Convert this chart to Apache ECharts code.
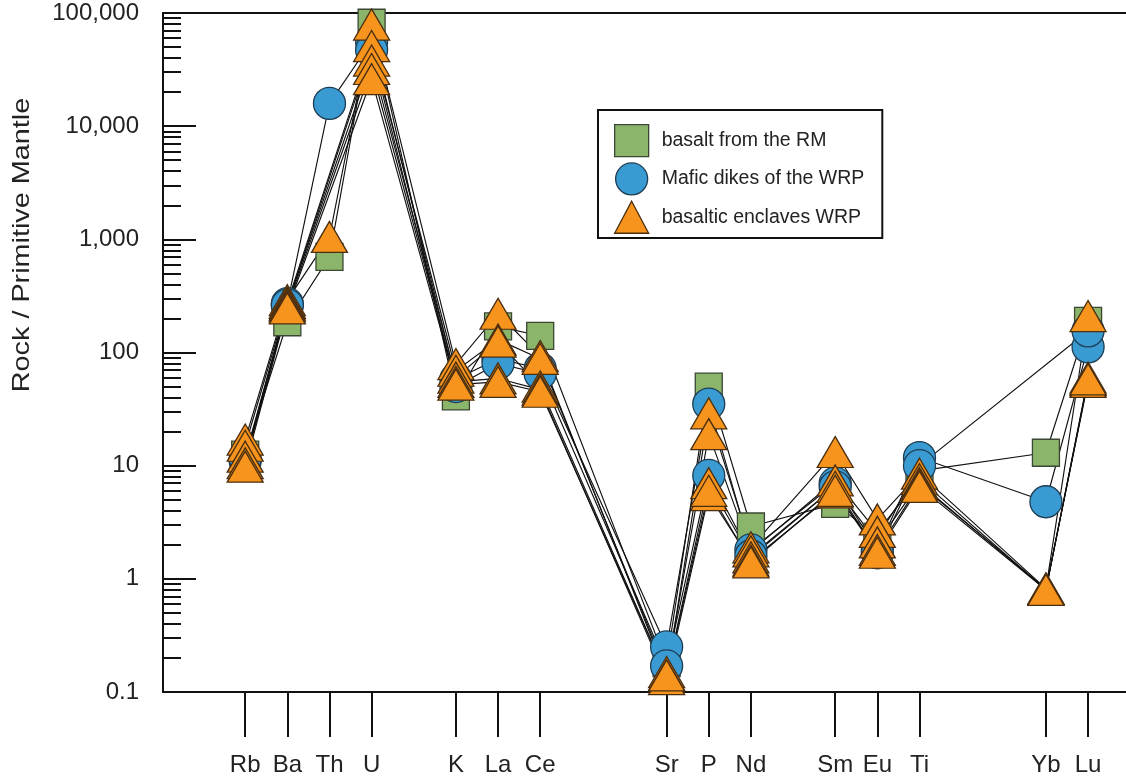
<!DOCTYPE html>
<html>
<head>
<meta charset="utf-8">
<title>Primitive-mantle normalised trace elements</title>
<script src="https://cdn.jsdelivr.net/npm/echarts@6/dist/echarts.min.js"></script>
<style>
  html, body { margin: 0; padding: 0; background: #ffffff; }
  #chart { width: 1126px; height: 778px; }
</style>
</head>
<body>
<div id="chart"></div>
<script>
// Element sequence along the x axis; blank entries are the gaps between element groups
const axisElements = ['Rb', 'Ba', 'Th', 'U', '', 'K', 'La', 'Ce', '', '', 'Sr', 'P', 'Nd', '', 'Sm', 'Eu', 'Ti', '', '', 'Yb', 'Lu'];

// Elements in the order each sample lists its values
const elements = ['Rb', 'Ba', 'Th', 'U', 'K', 'La', 'Ce', 'Sr', 'P', 'Nd', 'Sm', 'Eu', 'Ti', 'Yb', 'Lu'];

// Y-axis decade labels
const yTickValues = [0.1, 1, 10, 100, 1000, 10000, 100000];

// Rock / primitive mantle ratios (null = not analysed)
// basalt from the RM
const rm1 = [12.5, 185, 700, 82000, 41, 170, 140, 0.18, 50, 2.9, 4.6, 2.35, 9, 13, 190];

// Mafic dikes of the WRP
const dike1 = [11, 270, 15900, 56000, 58, 88, 72, 0.25, 35, 1.8, 7, 1.8, 11.8, 4.8, 112];
const dike2 = [11.5, 262, null, 47000, 50, 80, 65, 0.17, 8.2, 1.6, 6.5, 1.7, 10, null, 155];

// basaltic enclaves WRP
const encl1 = [17, 290, 1050, 79000, 79, 220, 93, 0.14, 29, 1.9, 13.2, 3.35, 8.5, 0.82, 210];
const encl2 = [15, 275, null, 51000, 69, 130, 88, 0.15, 19, 1.75, 7.4, 2.6, 7.6, 0.8, 60];
const encl3 = [12, 265, null, 38000, 60, 125, 50, 0.14, 7, 1.55, 6.5, 2.1, 7, 0.8, 57];
const encl4 = [10.5, 255, null, 32000, 55, 59, 47, 0.13, 5.5, 1.45, 5.8, 1.8, 6.8, 0.82, 55];
const encl5 = [9.8, 245, null, 26000, 52, 55, 45, 0.14, 6, 1.4, 6, 1.7, 6.5, 0.8, 58];

// drawing order: squares at the back, circles above them, triangles on top
const groups = [
  { name: 'basalt from the RM', samples: [rm1], symbol: 'rect', size: [27, 27], color: '#8cb56c', border: '#3b4733' },
  { name: 'Mafic dikes of the WRP', samples: [dike1, dike2], symbol: 'circle', size: 32, color: '#3a9bd3', border: '#1e3c52' },
  { name: 'basaltic enclaves WRP', samples: [encl1, encl2, encl3, encl4, encl5], symbol: 'triangle', size: [36, 31], color: '#f7941d', border: '#4a2e10' }
];

const FONT = "'Liberation Sans', Arial, Helvetica, sans-serif";

// x position of every element = its slot in the axis sequence
const slotOf = {};
axisElements.forEach((el, i) => { if (el) slotOf[el] = i; });
const tickSlots = axisElements.map((el, i) => (el ? i : null)).filter(v => v !== null);

function toPoints(sample) {
  return elements.map((el, i) => [slotOf[el], sample[i]]).filter(p => p[1] != null);
}

// minor log ticks (2..9 within each decade), expressed as log10 values
const minorLogTicks = [];
for (let d = -1; d < 5; d++) {
  for (let k = 2; k <= 9; k++) minorLogTicks.push(Math.log10(k * Math.pow(10, d)));
}

const X_MIN = -1.95;
const X_MAX = 20.9;

const series = [];
// connecting lines for every sample
groups.forEach(g => {
  g.samples.forEach(s => {
    series.push({
      type: 'line',
      data: toPoints(s),
      symbol: 'none',
      silent: true,
      z: 1,
      lineStyle: { color: '#111', width: 1.15 },
      xAxisIndex: 0,
      yAxisIndex: 0
    });
  });
});
// markers per group
groups.forEach((g, gi) => {
  const pts = [];
  g.samples.forEach(s => toPoints(s).forEach(p => pts.push(p)));
  series.push({
    type: 'scatter',
    name: g.name,
    data: pts,
    symbol: g.symbol,
    symbolSize: g.size,
    z: 3 + gi,
    itemStyle: { color: g.color, borderColor: g.border, borderWidth: 1.3, opacity: 1 },
    xAxisIndex: 0,
    yAxisIndex: 0
  });
});

const chart = echarts.init(document.getElementById('chart'), null, { renderer: 'canvas' });
chart.setOption({
  animation: false,
  backgroundColor: '#ffffff',
  grid: { left: 163, right: 0, top: 13, bottom: 86, show: false },
  xAxis: [
    {
      type: 'value',
      position: 'bottom',
      min: X_MIN,
      max: X_MAX,
      axisLine: { show: true, onZero: false, lineStyle: { color: '#111', width: 2 } },
      axisTick: { show: true, inside: false, length: 45, customValues: tickSlots, lineStyle: { color: '#111', width: 2 } },
      axisLabel: {
        show: true,
        customValues: tickSlots,
        formatter: v => axisElements[Math.round(v)] || '',
        margin: 61,
        fontSize: 24,
        fontFamily: FONT,
        color: '#222'
      },
      splitLine: { show: false }
    },
    {
      // top frame line of the plot
      type: 'value',
      position: 'top',
      min: X_MIN,
      max: X_MAX,
      axisLine: { show: true, onZero: false, lineStyle: { color: '#111', width: 2 } },
      axisTick: { show: false },
      axisLabel: { show: false },
      splitLine: { show: false }
    }
  ],
  yAxis: [
    {
      type: 'log',
      logBase: 10,
      min: yTickValues[0],
      max: yTickValues[yTickValues.length - 1],
      interval: 1,
      position: 'left',
      axisLine: { show: true, onZero: false, lineStyle: { color: '#111', width: 2 } },
      axisTick: { show: true, inside: true, length: 33, lineStyle: { color: '#111', width: 2 } },
      axisLabel: {
        formatter: v => {
          const n = Number(Number(v).toPrecision(6));
          return n >= 1000 ? n.toLocaleString('en-US') : String(n);
        },
        margin: 24,
        fontSize: 24,
        fontFamily: FONT,
        color: '#222'
      },
      splitLine: { show: false },
      minorTick: { show: false }
    },
    {
      // minor decade ticks, on a log10 value scale covering the same span
      type: 'value',
      min: Math.log10(yTickValues[0]),
      max: Math.log10(yTickValues[yTickValues.length - 1]),
      position: 'left',
      axisLine: { show: false, onZero: false },
      axisTick: { show: true, inside: true, length: 18, customValues: minorLogTicks, lineStyle: { color: '#111', width: 2 } },
      axisLabel: { show: false },
      splitLine: { show: false }
    }
  ],
  legend: {
    data: groups.map(g => g.name),
    orient: 'vertical',
    left: 598,
    top: 110,
    padding: [14, 18, 4, 16],
    itemGap: 5,
    itemWidth: 34,
    itemHeight: 32,
    backgroundColor: '#ffffff',
    borderColor: '#111',
    borderWidth: 2,
    borderRadius: 0,
    itemStyle: { borderWidth: 1.3 },
    textStyle: { fontSize: 19.5, fontFamily: FONT, color: '#222', padding: [0, 0, 0, 8] },
    selectedMode: false
  },
  graphic: [
    {
      type: 'text',
      x: 22,
      y: 245,
      rotation: Math.PI / 2,
      scaleX: 1.2,
      style: {
        text: 'Rock / Primitive Mantle',
        font: "24px 'Liberation Sans', Arial, Helvetica, sans-serif",
        fill: '#222',
        textAlign: 'center',
        textVerticalAlign: 'middle'
      }
    }
  ],
  series: series
});
</script>
</body>
</html>
